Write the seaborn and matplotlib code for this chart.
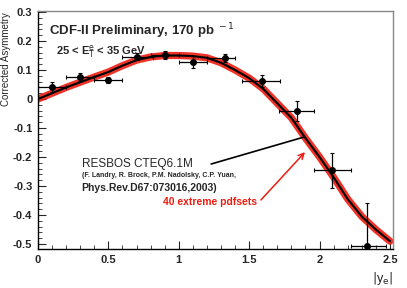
import numpy as np
import pandas as pd
import seaborn as sns
import matplotlib.pyplot as plt
from matplotlib.ticker import MultipleLocator

# measured points (CDF-II)
ye = [0.1, 0.3, 0.5, 0.7, 0.9, 1.1, 1.33, 1.59, 1.84, 2.09, 2.34]
asym = [0.041, 0.076, 0.066, 0.145, 0.152, 0.128, 0.141, 0.062, -0.041, -0.245, -0.507]
ye_lo = [0.1, 0.1, 0.1, 0.1, 0.1, 0.1, 0.13, 0.14, 0.13, 0.13, 0.12]
ye_hi = [0.1, 0.1, 0.1, 0.12, 0.1, 0.1, 0.07, 0.13, 0.12, 0.13, 0.13]
asym_err = [0.017, 0.015, 0.01, 0.012, 0.015, 0.022, 0.015, 0.02, 0.035, 0.06, 0.15]

# RESBOS CTEQ6.1M prediction
curve_x = [0.0, 0.1, 0.2, 0.3, 0.4, 0.5, 0.6, 0.7, 0.8, 0.9, 1.0, 1.1, 1.2,
           1.3, 1.4, 1.5, 1.6, 1.7, 1.8, 1.9, 2.0, 2.1, 2.2, 2.3, 2.4, 2.5]
curve_y = [0.0, 0.02, 0.04, 0.058, 0.076, 0.093, 0.115, 0.134, 0.145, 0.15, 0.15,
           0.148, 0.142, 0.125, 0.1, 0.072, 0.035, -0.015, -0.065, -0.135, -0.2,
           -0.27, -0.345, -0.405, -0.45, -0.49]

sns.set_style('ticks')
plt.rcParams['font.family'] = ['Liberation Sans', 'DejaVu Sans']

fig = plt.figure(figsize=(4.07, 2.88), dpi=100)
ax = fig.add_axes([0.0934, 0.1354, 0.872, 0.826])

curve = pd.DataFrame({'x': curve_x, 'y': curve_y})
# 40 extreme pdfsets band
sns.lineplot(data=curve, x='x', y='y', color='#ee1c10', lw=5.2, alpha=0.9, ax=ax)
sns.lineplot(data=curve, x='x', y='y', color='black', lw=1.5, ax=ax)

ax.errorbar(ye, asym, xerr=[ye_lo, ye_hi], yerr=asym_err, fmt='o', color='black',
            ms=4, elinewidth=0.9, capsize=1.2, capthick=0.8, zorder=5)

ax.set_xlim(0, 2.521)
ax.set_ylim(-0.517, 0.303)
ax.xaxis.set_major_locator(MultipleLocator(0.5))
ax.xaxis.set_minor_locator(MultipleLocator(0.1))
ax.yaxis.set_major_locator(MultipleLocator(0.1))
ax.yaxis.set_minor_locator(MultipleLocator(0.02))
ax.tick_params(which='both', direction='in', top=False, right=False, labelsize=8, pad=4)
ax.tick_params(which='major', length=6, width=0.8)
ax.tick_params(which='minor', length=3, width=0.6)
ax.set_xticks([0, 0.5, 1, 1.5, 2, 2.5])
ax.set_xticklabels(['0', '0.5', '1', '1.5', '2', '2.5'], fontweight='bold')
ax.set_yticks([-0.5, -0.4, -0.3, -0.2, -0.1, 0, 0.1, 0.2, 0.3])
ax.set_yticklabels(['-0.5', '-0.4', '-0.3', '-0.2', '-0.1', '0', '0.1', '0.2', '0.3'],
                   fontweight='bold')
for side in ['left', 'bottom']:
    ax.spines[side].set_color('black')
    ax.spines[side].set_linewidth(1.0)
for side in ['top', 'right']:
    ax.spines[side].set_color('#888888')
    ax.spines[side].set_linewidth(1.0)

ax.set_ylabel('Corrected Asymmetry', fontsize=7, loc='top')
ax.yaxis.set_label_coords(-0.075, 0.995)
ax.set_xlabel(r'$|$y$_{\rm e}|$', fontsize=9, loc='right', labelpad=4)

ax.text(0.03, 0.955, r'CDF-II Preliminary, 170 pb$^{\ -1}$', transform=ax.transAxes,
        fontsize=9.5, fontweight='bold', va='top')
ax.text(0.05, 0.865, r'25 < E$^{\rm e}_{\rm T}$ < 35 GeV', transform=ax.transAxes,
        fontsize=8, fontweight='bold', va='top')

ax.text(0.31, -0.225, 'RESBOS CTEQ6.1M', fontsize=8.5, va='center')
ax.text(0.31, -0.265, '(F. Landry, R. Brock, P.M. Nadolsky, C.P. Yuan,',
        fontsize=5, fontweight='bold', va='center')
ax.text(0.31, -0.305, 'Phys.Rev.D67:073016,2003)', fontsize=7.5, fontweight='bold',
        va='center')
ax.text(1.22, -0.355, '40 extreme pdfsets', fontsize=7.5, fontweight='bold',
        color='#ee1c10', ha='center', va='center')

ax.plot([1.23, 1.89], [-0.224, -0.131], color='black', lw=1.2)
ax.annotate('', xy=(1.91, -0.176), xytext=(1.57, -0.355),
            arrowprops=dict(arrowstyle='->', color='#ee1c10', lw=1.1))

fig.savefig('out.png', dpi=100)
